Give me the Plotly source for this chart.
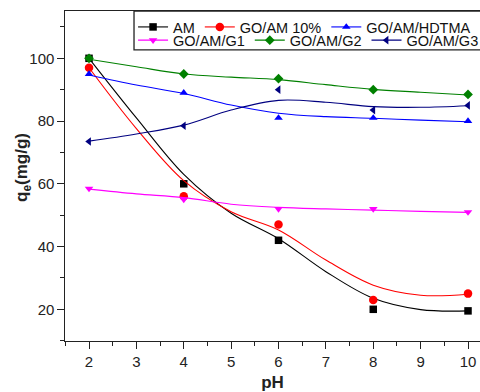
import plotly.graph_objects as go

# ---- data ----
ph = [2, 4, 6, 8, 10]
am = [100, 60, 42, 20, 19.5]
go_am10 = [97, 56, 47, 23, 25]
hdtma = [95, 89, 81, 81, 80]
g1 = [58.5, 55, 52, 52, 51]
g2 = [100, 95, 93.5, 90, 88.5]
g3 = [73.5, 78.5, 90, 83.5, 85]

# fitted curves (on a 1-pH grid)
ph_fit = [2, 3, 4, 5, 6, 7, 8, 9, 10]
am_fit = [100, 81, 63, 50.6, 42.5, 32, 23.5, 19.9, 19.5]
go_am10_fit = [97, 77.6, 61, 51.1, 45.3, 35.7, 27.7, 24.5, 24.8]
hdtma_fit = [94.7, 91.5, 88.8, 85.1, 82.5, 81.4, 80.9, 80.3, 79.8]
g1_fit = [58.3, 56.8, 55.6, 53.5, 52.5, 52, 51.6, 51.2, 50.9]
g2_fit = [99.7, 97.3, 95, 94, 93.2, 91.6, 90.1, 89.2, 88.3]
g3_fit = [73.6, 75.9, 78.7, 83.5, 86.6, 86.0, 84.6, 84.4, 84.9]

names = ["AM", "GO/AM 10%", "GO/AM/HDTMA", "GO/AM/G1", "GO/AM/G2", "GO/AM/G3"]
points = [am, go_am10, hdtma, g1, g2, g3]
fits = [am_fit, go_am10_fit, hdtma_fit, g1_fit, g2_fit, g3_fit]
colors = ["#000000", "#ff0000", "#0000ff", "#ff00ff", "#008000", "#000080"]
symbols = ["square", "circle", "triangle-up", "triangle-down", "diamond", "triangle-left"]
sizes = [7.5, 8.5, 7.5, 7.5, 7.5, 7.5]
legends = ["legend", "legend", "legend", "legend2", "legend2", "legend2"]

fig = go.Figure()
for n, p, f, c, s, sz, lg in zip(names, points, fits, colors, symbols, sizes, legends):
    fig.add_trace(go.Scatter(x=ph_fit, y=f, mode="lines", line=dict(color=c, width=1.1, shape="spline"),
                             showlegend=False, hoverinfo="skip"))
    fig.add_trace(go.Scatter(x=ph, y=p, mode="markers", marker=dict(color=c, symbol=s, size=sz, line=dict(width=0)),
                             showlegend=False))
    fig.add_trace(go.Scatter(x=[None], y=[None], mode="lines+markers", name=n, legend=lg,
                             line=dict(color=c, width=1.1),
                             marker=dict(color=c, symbol=s, size=sz, line=dict(width=0))))

FONT = "Liberation Sans, Arial, sans-serif"
axis_common = dict(showline=True, linecolor="#222", linewidth=1.3, ticks="outside", ticklen=6.5,
                   tickwidth=1.3, tickcolor="#222", showgrid=False, zeroline=False,
                   tickfont=dict(family=FONT, size=15, color="#222"))

fig.update_layout(
    width=480, height=392,
    margin=dict(l=65, r=0, t=11, b=51, autoexpand=False),
    plot_bgcolor="white", paper_bgcolor="white",
    font=dict(family=FONT, color="#222"),
    xaxis=dict(range=[1.493, 10.253], tickvals=[2, 3, 4, 5, 6, 7, 8, 9, 10], mirror=True,
               minor=dict(tickvals=[1.5, 2.5, 3.5, 4.5, 5.5, 6.5, 7.5, 8.5, 9.5], ticks="outside",
                          ticklen=3.5, tickwidth=1.3, tickcolor="#222"),
               title=dict(text="<b>pH</b>", font=dict(family=FONT, size=17), standoff=8),
               **axis_common),
    yaxis=dict(range=[9.9, 115.08], tickvals=[20, 40, 60, 80, 100], mirror=False,
               minor=dict(tickvals=[10, 30, 50, 70, 90, 110], ticks="outside",
                          ticklen=3.5, tickwidth=1.3, tickcolor="#222"),
               **axis_common),
    legend=dict(orientation="h", x=0.164, y=1.0, xanchor="left", yanchor="top",
                bgcolor="rgba(0,0,0,0)", borderwidth=0, font=dict(family=FONT, size=14.5, color="#111"),
                itemwidth=30),
    legend2=dict(orientation="h", x=0.164, y=0.960, xanchor="left", yanchor="top",
                 bgcolor="rgba(0,0,0,0)", borderwidth=0, font=dict(family=FONT, size=14.5, color="#111"),
                 itemwidth=30),
    shapes=[dict(type="rect", xref="paper", yref="paper", x0=0.1663, x1=1.05, y0=0.882, y1=1.0,
                 line=dict(color="#222", width=1.3), fillcolor="rgba(0,0,0,0)")],
    annotations=[dict(text="<b>q<sub>e</sub>(mg/g)</b>", textangle=-90, xref="paper", yref="paper",
                      x=-(65 - 23) / 415, y=(341 - 168) / 330, xanchor="center", yanchor="middle",
                      showarrow=False, font=dict(family=FONT, size=17, color="#222"))],
)

fig.write_html("out.html")
